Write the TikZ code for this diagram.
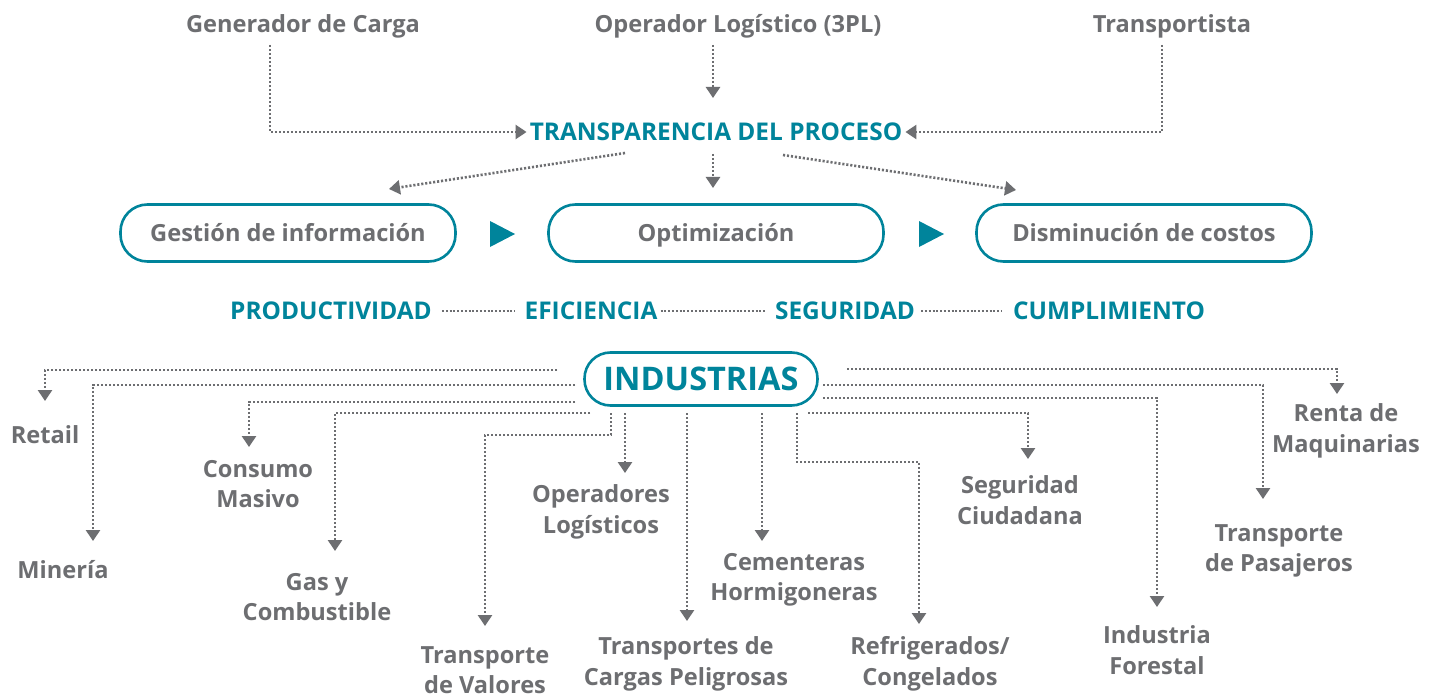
\documentclass[tikz,border=0pt]{standalone}
\usepackage{fontspec}
\setmainfont{Open Sans}
\usetikzlibrary{arrows.meta,calc}
\definecolor{tgray}{RGB}{109,110,113}
\definecolor{teal1}{RGB}{0,132,155}
\begin{document}
\begin{tikzpicture}[x=1pt,y=-1pt,
 lbl/.style={font=\fontsize{23.6}{30.5}\selectfont\bfseries, text=tgray, align=center, inner sep=0pt},
 hl/.style={font=\fontsize{24.4}{28}\selectfont\bfseries, text=teal1, inner sep=0pt},
 pill/.style={draw=teal1, line width=2.6pt, rounded corners=27pt, minimum width=335pt, minimum height=57pt, inner sep=0pt, text height=20pt, text depth=3pt, font=\fontsize{23.6}{28}\selectfont\bfseries, text=tgray},
 conn/.style={draw=tgray, line width=2.6pt, dash pattern=on 2.1pt off 1.9pt, -{Triangle[length=11pt,width=14pt]}},
 dotl/.style={draw=tgray, line width=2.4pt, dash pattern=on 2pt off 1.8pt},
 tri/.style={fill=teal1}
]
\fill[white] (0,0) rectangle (1441,698);
\useasboundingbox (0,0) rectangle (1441,698);

% top row
\node[lbl] (gen) at (303,26) {Generador de Carga};
\node[lbl] (opl) at (738,26) {Operador Logístico (3PL)};
\node[lbl] (tra) at (1172,26) {Transportista};
\node[hl] (trp) at (716,132) {TRANSPARENCIA DEL PROCESO};

\coordinate (gS) at (270,45);
\coordinate (oS) at (713,45);
\coordinate (tS) at (1162,45);
\draw[conn] (gS) |- ([xshift=-3pt]trp.west);
\draw[conn] (oS) -- (713,98) coordinate (oE);
\draw[conn] (tS) |- ([xshift=3pt]trp.east);

% process boxes
\node[pill] (b1) at (288,233) {Gestión de información};
\node[pill] (b2) at (716,233) {Optimización};
\node[pill] (b3) at (1144,233) {Disminución de costos};
\fill[tri] (490,221) -- (515,234) -- (490,247) -- cycle;
\fill[tri] (919,221) -- (944,234) -- (919,247) -- cycle;

\coordinate (d1) at (625,153);
\coordinate (d2) at (713,154);
\coordinate (d3) at (783,155);
\draw[conn] (d1) -- (389,189) coordinate (e1);
\draw[conn] (d2) -- (713,188) coordinate (e2);
\draw[conn] (d3) -- (1016,190) coordinate (e3);

% values row
\node[hl] (pro) at (331,311) {PRODUCTIVIDAD};
\node[hl] (efi) at (591,311) {EFICIENCIA};
\node[hl] (seg) at (845,311) {SEGURIDAD};
\node[hl] (cum) at (1109,311) {CUMPLIMIENTO};
\draw[dotl] ([xshift=10pt]pro.east) -- ([xshift=-10pt]efi.west);
\draw[dotl] ([xshift=3pt]efi.east) -- ([xshift=-9pt]seg.west);
\draw[dotl] ([xshift=6pt]seg.east) -- ([xshift=-11pt]cum.west);

% industries
\node[draw=teal1, line width=2.6pt, rounded corners=26pt, minimum width=233pt, minimum height=53pt, inner sep=0pt, text=teal1, font=\fontsize{32.5}{36}\selectfont\bfseries] (ind) at (701,379) {INDUSTRIAS};

\node[lbl] (ret) at (45,435) {Retail};
\node[lbl] (min) at (63,570) {Minería};
\node[lbl] (con) at (258,484) {Consumo\\Masivo};
\node[lbl] (gas) at (317,597) {Gas y\\Combustible};
\node[lbl] (val) at (485,670) {Transporte\\de Valores};
\node[lbl] (ope) at (601,512) {Operadores\\Logísticos};
\node[lbl] (pel) at (686,664) {Transportes de\\Cargas Peligrosas};
\node[lbl] (cem) at (794,580) {Cementeras\\Hormigoneras};
\node[lbl] (ref) at (930,664) {Refrigerados/\\Congelados};
\node[lbl] (sgc) at (1020,500) {Seguridad\\Ciudadana};
\node[lbl] (for) at (1157,650) {Industria\\Forestal};
\node[lbl] (pas) at (1279,551) {Transporte\\de Pasajeros};
\node[lbl] (ren) at (1346,431) {Renta de\\Maquinarias};

\coordinate (s1) at (557,370);  \coordinate (t1) at (45,401);
\coordinate (s2) at (575,385);  \coordinate (t2) at (93,541);
\coordinate (s3) at (575,402);  \coordinate (t3) at (249,447);
\coordinate (s4) at (590,413);  \coordinate (t4) at (335,551);
\coordinate (s5) at (611,413);  \coordinate (t5) at (485,626);
\coordinate (s6) at (625,413);  \coordinate (t6) at (625,473);
\coordinate (s7) at (687,413);  \coordinate (t7) at (687,621);
\coordinate (s8) at (762,413);  \coordinate (t8) at (762,541);
\coordinate (s9) at (797,413);  \coordinate (t9) at (919,624);
\coordinate (s10) at (808,413); \coordinate (t10) at (1028,459);
\coordinate (s11) at (823,398); \coordinate (t11) at (1157,607);
\coordinate (s12) at (823,385); \coordinate (t12) at (1263,499);
\coordinate (s13) at (847,369); \coordinate (t13) at (1337,394);

\draw[conn] (s1) -| (t1);
\draw[conn] (s2) -| (t2);
\draw[conn] (s3) -| (t3);
\draw[conn] (s4) -| (t4);
\draw[conn] (s5) -- (611,435) -| (t5);
\draw[conn] (s6) -- (t6);
\draw[conn] (s7) -- (t7);
\draw[conn] (s8) -- (t8);
\draw[conn] (s9) -- (797,462) -| (t9);
\draw[conn] (s10) -| (t10);
\draw[conn] (s11) -| (t11);
\draw[conn] (s12) -| (t12);
\draw[conn] (s13) -| (t13);
\end{tikzpicture}
\end{document}
